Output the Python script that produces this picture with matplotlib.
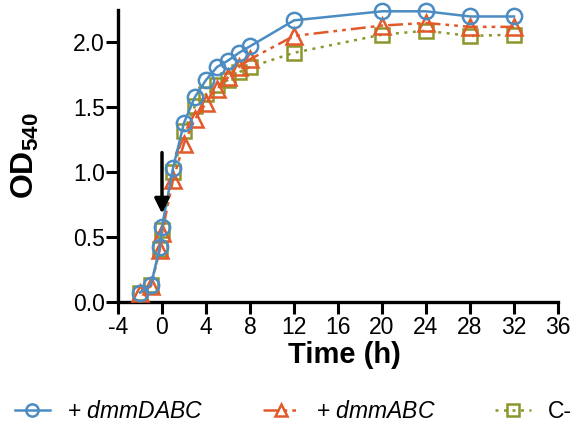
import matplotlib
matplotlib.use("Agg")
import matplotlib.pyplot as plt

plt.rcParams['font.family'] = ['Liberation Sans', 'DejaVu Sans']
plt.rcParams['mathtext.fontset'] = 'custom'
plt.rcParams['mathtext.rm'] = 'Liberation Sans'
plt.rcParams['mathtext.it'] = 'Liberation Sans:italic'
plt.rcParams['mathtext.bf'] = 'Liberation Sans:bold'

time = [-2, -1, -0.2, 0, 1, 2, 3, 4, 5, 6, 7, 8, 12, 20, 24, 28, 32]
dmmDABC = [0.07, 0.13, 0.42, 0.58, 1.03, 1.38, 1.58, 1.71, 1.81, 1.86, 1.92, 1.97, 2.17, 2.24, 2.24, 2.20, 2.20]
dmmABC = [0.07, 0.12, 0.40, 0.53, 0.94, 1.22, 1.41, 1.53, 1.64, 1.73, 1.81, 1.87, 2.05, 2.13, 2.15, 2.12, 2.12]
c_neg = [0.07, 0.13, 0.41, 0.55, 1.00, 1.32, 1.51, 1.60, 1.67, 1.71, 1.77, 1.81, 1.92, 2.06, 2.09, 2.05, 2.06]

labels = [r'+ $\it{dmmDABC}$', r'+ $\it{dmmABC}$', 'C-']
xticks = [-4, 0, 4, 8, 12, 16, 20, 24, 28, 32, 36]
yticks = [0.0, 0.5, 1.0, 1.5, 2.0]

blue = '#4b8cc3'
orange = '#e35a2a'
olive = '#8c962a'

fig = plt.figure(figsize=(5.75, 4.28), dpi=100)
ax = fig.add_axes([118/575, 1 - 301.7/428, 440/575, 291.7/428])

l3, = ax.plot(time, c_neg, color=olive, ls=(0, (1.2, 2.2)), lw=1.8, marker='s', ms=10,
              mfc='none', mew=1.8, clip_on=False, zorder=3)
l2, = ax.plot(time, dmmABC, color=orange, ls=(0, (6, 2, 1.5, 2, 1.5, 2)), lw=1.8, marker='^', ms=11,
              mfc='none', mew=1.8, clip_on=False, zorder=4)
l1, = ax.plot(time, dmmDABC, color=blue, ls='-', lw=1.8, marker='o', ms=11,
              mfc='none', mew=1.8, clip_on=False, zorder=5)

ax.annotate('', xy=(0, 0.68), xytext=(0, 1.15),
            arrowprops=dict(arrowstyle='-|>', lw=2.5, color='k', mutation_scale=22,
                            shrinkA=0, shrinkB=0), zorder=6)

ax.set_xlim(-4, 36)
ax.set_ylim(0, 2.25)
ax.set_xticks(xticks)
ax.set_xticklabels([str(t) for t in xticks])
ax.set_yticks(yticks)
ax.set_yticklabels([f'{t:.1f}' for t in yticks])
for s in ['top', 'right']:
    ax.spines[s].set_visible(False)
for s in ['left', 'bottom']:
    ax.spines[s].set_linewidth(2.4)
ax.tick_params(axis='both', direction='out', length=8.5, width=2.2, labelsize=16.5)
ax.tick_params(axis='x', pad=2)
ax.tick_params(axis='y', pad=1)

ax.set_xlabel('Time (h)', fontsize=21, fontweight='bold')
ax.xaxis.set_label_coords(0.515, -0.135)
ax.set_ylabel(r'$\mathbf{OD_{540}}$', fontsize=23)
ax.yaxis.set_label_coords(-0.175, 0.5)

fig.legend([l1, l2, l3], labels, loc='center', bbox_to_anchor=(0.51, 1 - 412/428),
           ncol=3, frameon=False, fontsize=16.5, handlelength=1.55, columnspacing=2.6,
           handletextpad=0.75, markerscale=0.8)

fig.savefig('out.png', dpi=100)
